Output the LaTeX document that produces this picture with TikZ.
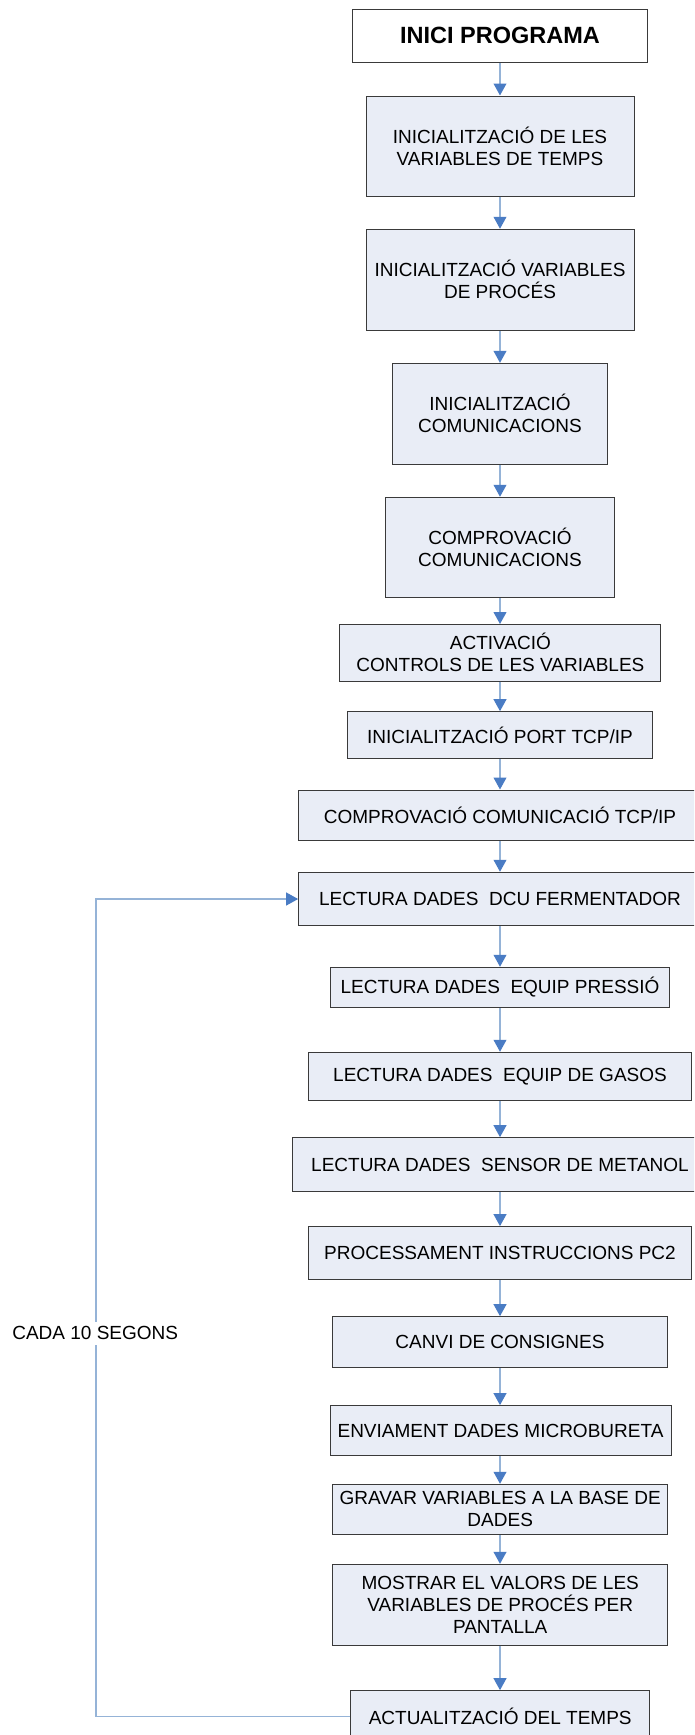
\documentclass[tikz,border=0pt]{standalone}
\usepackage{fontspec}
\setmainfont{Liberation Sans}
\usetikzlibrary{arrows.meta}
\definecolor{boxfill}{HTML}{E9EDF6}
\definecolor{boxline}{HTML}{3A3A3A}
\definecolor{linkblue}{HTML}{95B3D7}
\definecolor{tipblue}{HTML}{4A7CC4}
\tikzset{
  stepbox/.style={draw=boxline, line width=1pt, fill=boxfill, inner sep=0pt,
    align=center, font=\fontsize{19}{22}\selectfont},
  link/.style={draw=linkblue, line width=1.8pt,
    -{Triangle[length=12pt,width=12.7pt,color=tipblue]}},
  loopline/.style={draw=linkblue, line width=1.8pt,
    -{Triangle[length=12pt,width=12.7pt,color=tipblue]}},
}
\begin{document}
\begin{tikzpicture}[x=1pt,y=-1pt]
\useasboundingbox (0,0) rectangle (694,1735);
\fill[white] (0,0) rectangle (694,1735);
\clip (0,0) rectangle (694,1735);

% program steps, top to bottom
\node[stepbox, fill=white, font=\fontsize{23.5}{26}\selectfont\bfseries,
  minimum width=295pt, minimum height=53.3pt] (s1) at (500,35.7) {INICI PROGRAMA};
\node[stepbox, minimum width=268pt, minimum height=100pt] (s2) at (500,146)
  {INICIALITZACIÓ DE LES\\VARIABLES DE TEMPS};
\node[stepbox, minimum width=268pt, minimum height=101pt] (s3) at (500,279.8)
  {INICIALITZACIÓ VARIABLES\\DE PROCÉS};
\node[stepbox, minimum width=214.6pt, minimum height=100.7pt] (s4) at (500,413.7)
  {INICIALITZACIÓ\\COMUNICACIONS};
\node[stepbox, minimum width=228.6pt, minimum height=100.4pt] (s5) at (500,547.5)
  {COMPROVACIÓ\\COMUNICACIONS};
\node[stepbox, minimum width=321pt, minimum height=56.5pt] (s6) at (500.4,652.8)
  {ACTIVACIÓ\\CONTROLS DE LES VARIABLES};
\node[stepbox, minimum width=305.4pt, minimum height=46.6pt] (s7) at (500,735)
  {INICIALITZACIÓ PORT TCP/IP};
\node[stepbox, minimum width=402.6pt, minimum height=50.3pt] (s8) at (500,815.2)
  {COMPROVACIÓ COMUNICACIÓ TCP/IP};
\node[stepbox, minimum width=402.6pt, minimum height=53.4pt] (s9) at (500,899)
  {LECTURA DADES\ \ DCU FERMENTADOR};
\node[stepbox, minimum width=338.6pt, minimum height=40.4pt] (s10) at (500,987.5)
  {LECTURA DADES\ \ EQUIP PRESSIÓ};
\node[stepbox, minimum width=382.6pt, minimum height=48pt] (s11) at (500,1076.3)
  {LECTURA DADES\ \ EQUIP DE GASOS};
\node[stepbox, minimum width=414.6pt, minimum height=54pt] (s12) at (500,1164.7)
  {LECTURA DADES\ \ SENSOR DE METANOL};
\node[stepbox, minimum width=382.6pt, minimum height=53.3pt] (s13) at (500,1253.3)
  {PROCESSAMENT INSTRUCCIONS PC2};
\node[stepbox, minimum width=335.4pt, minimum height=50.6pt] (s14) at (500,1342)
  {CANVI DE CONSIGNES};
\node[stepbox, minimum width=341pt, minimum height=50.3pt] (s15) at (500.5,1430.8)
  {ENVIAMENT DADES MICROBURETA};
\node[stepbox, minimum width=335.2pt, minimum height=50pt] (s16) at (500.2,1509.3)
  {GRAVAR VARIABLES A LA BASE DE\\DADES};
\node[stepbox, minimum width=335.2pt, minimum height=80.7pt] (s17) at (500.2,1604.7)
  {MOSTRAR EL VALORS DE LES\\VARIABLES DE PROCÉS PER\\PANTALLA};
\node[stepbox, minimum width=299pt, minimum height=50.6pt] (s18) at (500.2,1716)
  {ACTUALITZACIÓ DEL TEMPS};

% straight links between consecutive steps
\foreach \a/\b in {s1/s2,s2/s3,s3/s4,s4/s5,s5/s6,s6/s7,s7/s8,s8/s9,s9/s10,
  s10/s11,s11/s12,s12/s13,s13/s14,s14/s15,s15/s16,s16/s17,s17/s18}
  \draw[link] (\a.south -| 500,0) -- (\b.north -| 500,0);

% the ten-second loop back to the first reading
\coordinate (lb) at (96.3,1716.4);
\coordinate (lt) at (96.3,899);
\draw[loopline] (s18.west |- lb) -- (lb) -- (lt) -- (s9.west);
\node[fill=white, inner sep=0pt, minimum height=23.3pt,
  font=\fontsize{19}{22}\selectfont] (every) at (95.2,1333.3) {CADA 10 SEGONS};
\end{tikzpicture}
\end{document}
